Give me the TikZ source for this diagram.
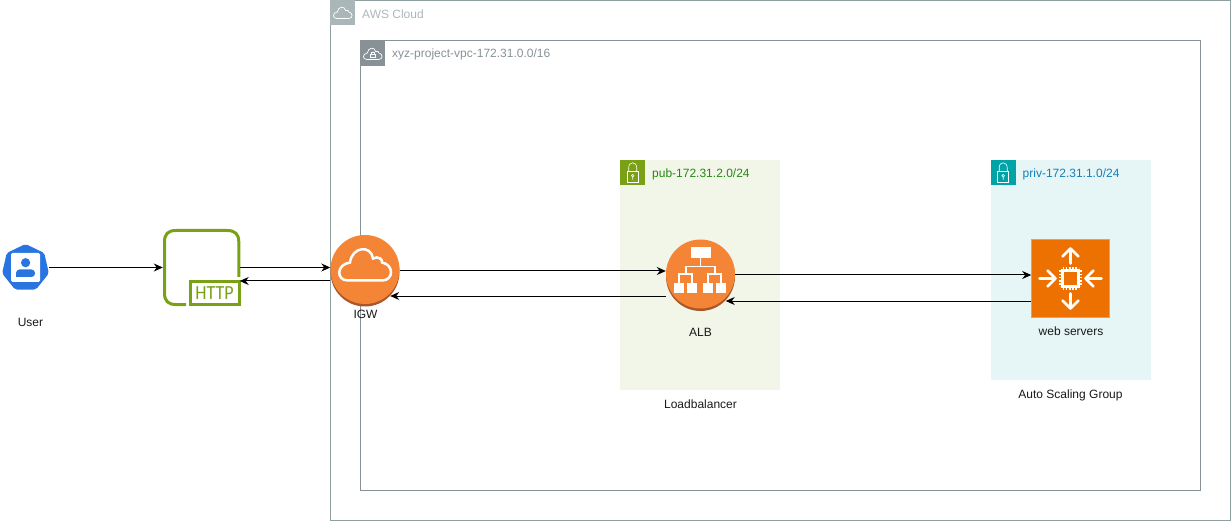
\documentclass[tikz,border=0pt]{standalone}
\usepackage{fontspec}
\setmainfont{Liberation Sans}
\newfontfamily\httpfont{Carlito}
\usetikzlibrary{calc,arrows.meta,shapes.geometric}
\definecolor{cloudgrey}{HTML}{AAB7B8}
\definecolor{cloudline}{HTML}{8FA0A0}
\definecolor{vpcgrey}{HTML}{879196}
\definecolor{pubgreen}{HTML}{7AA116}
\definecolor{pubfill}{HTML}{F2F6E8}
\definecolor{pubtext}{HTML}{248814}
\definecolor{privteal}{HTML}{00A4A6}
\definecolor{privfill}{HTML}{E6F6F7}
\definecolor{privtext}{HTML}{147EBA}
\definecolor{gwblue}{HTML}{2875E2}
\definecolor{awsorange}{HTML}{F58536}
\definecolor{awsshade}{HTML}{A9562A}
\definecolor{ec2orange}{HTML}{ED7100}
\tikzset{
    flow/.style={-{Stealth[length=9pt,width=8pt]},line width=1pt,black},
    tab box/.style={minimum size=25pt,inner sep=0pt,anchor=north west},
    group label/.style={anchor=west,inner sep=0pt,font=\fontsize{12}{14}\selectfont},
    plain label/.style={inner sep=0pt,font=\fontsize{12}{14}\selectfont,text=black!90},
    aws round/.style={
        circle,minimum size=69pt,inner sep=0pt,fill=awsorange,
        preaction={fill=awsshade,transform canvas={yshift=-2.5pt}}
    },
    cloud icon/.pic={
        \draw[white,pic actions]
        (-17,16) .. controls (-29,16) and (-29,0) .. (-15,-2)
        .. controls (-13,-18) and (6,-20) .. (8,-6)
        .. controls (13,-9) and (18,-5) .. (17,-2)
        .. controls (29,0) and (29,16) .. (17,16) -- cycle;
    },
    lock icon/.pic={
        \draw[white,line width=0.6pt] (-5.5,-1) rectangle (5.5,10);
        \draw[white,line width=0.6pt] (-4,-1) -- (-4,-5)
        .. controls (-4,-11.5) and (4,-11.5) .. (4,-5) -- (4,-1);
        \draw[white,line width=0.6pt] (0,3) circle (1.3) (0,4.3) -- (0,7);
    }
}
\begin{document}
\begin{tikzpicture}[x=1pt,y=-1pt]
\useasboundingbox (0,0) rectangle (1231,521);
% groups
\draw[cloudline,line width=0.9pt] (330.5,0.5) rectangle (1230.5,520.5);
\node[tab box,fill=cloudgrey] (cloud tab) at (330,0) {};
\pic[line width=0.7pt,scale=0.36] at (cloud tab.center) {cloud icon};
\node[group label,text=cloudgrey] (cloud label) at (362,14) {AWS Cloud};
\draw[vpcgrey,line width=0.9pt] (360.5,40.5) rectangle (1200.5,490.5);
\node[tab box,fill=vpcgrey] (vpc tab) at (360,41) {};
\pic[line width=0.7pt,scale=0.36] at (vpc tab.center) {cloud icon};
\draw[white,line width=0.6pt] ($(vpc tab.center)+(-2.5,0.5)$) rectangle ($(vpc tab.center)+(2.5,4)$);
\draw[white,line width=0.6pt] ($(vpc tab.center)+(-1.5,0.5)$) -- ($(vpc tab.center)+(-1.5,-1)$) -- ($(vpc tab.center)+(1.5,-1)$) -- ($(vpc tab.center)+(1.5,0.5)$);
\node[group label,text=vpcgrey] (vpc label) at (392,54) {xyz-project-vpc-172.31.0.0/16};

\fill[pubfill] (620,160) rectangle (780,390);
\node[tab box,fill=pubgreen] (pub tab) at (620,160) {};
\pic at (pub tab.center) {lock icon};
\node[group label,text=pubtext] (pub label) at (652,174) {pub-172.31.2.0/24};
\fill[privfill] (990.5,160) rectangle (1150.5,380);
\node[tab box,fill=privteal] (priv tab) at (990.5,160) {};
\pic at (priv tab.center) {lock icon};
\node[group label,text=privtext] (priv label) at (1022.5,174) {priv-172.31.1.0/24};

% user
\node[regular polygon,regular polygon sides=7,minimum size=48pt,inner sep=0pt,fill=gwblue,rounded corners=2pt] (user) at (25.5,268) {};
\fill[white,rounded corners=1.5pt] (11,253) rectangle (40,282);
\fill[gwblue] (25.6,262.7) circle (4.6);
\fill[gwblue,rounded corners=3.5pt] (16,277) -- (16,269.5) -- (35,269.5) -- (35,277) [sharp corners] -- cycle;
\node[plain label] (user label) at (30.5,322.5) {User};

% http
\node[minimum size=76pt,inner sep=0pt] (http) at (201.5,267.5) {};
\draw[pubgreen,line width=3pt] (186,304.5) -- (176,304.5)
.. controls (168,304.5) and (164.5,301) .. (164.5,293) -- (164.5,242)
.. controls (164.5,234) and (168,230.5) .. (176,230.5) -- (227,230.5)
.. controls (235,230.5) and (238.8,234) .. (238.8,242) -- (238.8,277);
\node[draw=pubgreen,line width=3pt,fill=white,text=pubgreen,minimum width=49pt,minimum height=23pt,inner sep=0pt,font=\httpfont\fontsize{20}{20}\selectfont] (http tag) at (214.5,293) {\scalebox{0.9}[1]{HTTP}};

% igw
\node[aws round] (igw) at (365,269.5) {};
\pic[line width=2.5pt] at (365,264.5) {cloud icon};
\node[plain label] (igw label) at (365.5,314.5) {IGW};

% alb
\node[aws round] (alb) at (700.5,274) {};
\fill[white] (691,247) rectangle (711,258);
\foreach \boxx in {674,687,703,716}
    \fill[white] (\boxx,283) rectangle ++(10,10);
\draw[white,line width=1.3pt] (700.5,258) -- (700.5,266.5) (686,274) -- (686,266.5) -- (715,266.5) -- (715,274)
(679,283) -- (679,274) -- (692,274) -- (692,283) (708,283) -- (708,274) -- (721,274) -- (721,283);
\node[plain label] (alb label) at (700.5,332) {ALB};
\node[plain label] (lb label) at (700.5,404.5) {Loadbalancer};

% web servers
\node[minimum size=78pt,inner sep=0pt,fill=ec2orange,draw=ec2orange!70!white,line width=0.6pt] (web) at (1070.5,278.5) {};
\begin{scope}[shift={(web.center)}]
\draw[white,line width=2.6pt] (-8,-8) rectangle (8,8);
\draw[white,line width=1.6pt,dash pattern=on 1.6pt off 1.6pt] (-10.5,-8) -- (-10.5,8) (10.5,-8) -- (10.5,8) (-8,-10.5) -- (8,-10.5) (-8,10.5) -- (8,10.5);
\draw[white,line width=2.6pt,line cap=round,line join=round]
(0,-15) -- (0,-30) (-8,-22) -- (0,-30) -- (8,-22)
(0,15) -- (0,30) (-8,22) -- (0,30) -- (8,22)
(-31,0) -- (-15,0) (-23,-8) -- (-15,0) -- (-23,8)
(31,0) -- (15,0) (23,-8) -- (15,0) -- (23,8);
\end{scope}
\node[plain label] (web label) at (1071,331) {web servers};
\node[plain label] (asg label) at (1070.5,395) {Auto Scaling Group};

% connectors
\draw[flow] ([xshift=1pt]user.east |- http.west) -- ([xshift=-0.5pt]http.west);
\draw[flow] (http.east) -- ([yshift=2pt]igw.west);
\draw[flow] ([yshift=-11.5pt]igw.west) -- ([yshift=-13.5pt]http.east);
\draw[flow] ([yshift=-1.5pt]igw.east) -- ([yshift=3pt]alb.west);
\draw[flow] ([yshift=-22pt]alb.west) -- ([xshift=-9.5pt,yshift=-26.5pt]igw.east);
\draw[flow] ([yshift=-1pt]alb.east) -- ([yshift=3.5pt]web.west);
\draw[flow] ([yshift=-22.5pt]web.west) -- ([xshift=-9.5pt,yshift=-27pt]alb.east);
\end{tikzpicture}
\end{document}
